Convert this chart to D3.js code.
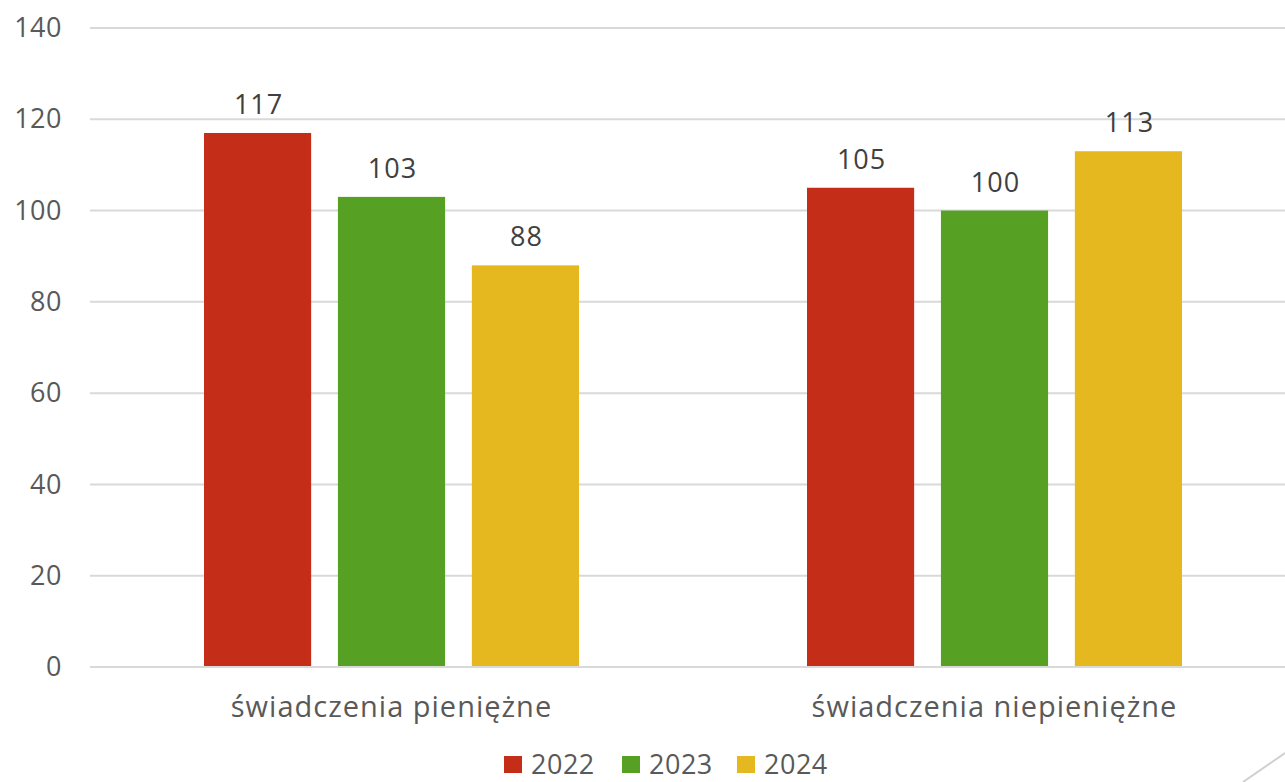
<!DOCTYPE html>
<html>
<head>
<meta charset="utf-8">
<script src="https://cdn.jsdelivr.net/npm/d3@7"></script>
<style>
    body { margin: 0; background: #ffffff; }
    svg { display: block; font-family: "Open Sans", "DejaVu Sans", sans-serif; }
</style>
</head>
<body>
<svg id="chart" width="1285" height="782"></svg>
<script>
// Data
const categories = ["świadczenia pieniężne", "świadczenia niepieniężne"];
const years = ["2022", "2023", "2024"];
const values2022 = [117, 105];
const values2023 = [103, 100];
const values2024 = [88, 113];
const yTicks = [0, 20, 40, 60, 80, 100, 120, 140];

const colors = ["#C42E19", "#56A024", "#E5B820"];
const seriesValues = [values2022, values2023, values2024];

const svg = d3.select("#chart");
const margin = { top: 28, right: -11, bottom: 115, left: 90 };
const width = 1285 - margin.left - margin.right;
const height = 782 - margin.top - margin.bottom;

const chart = svg.append("g")
    .attr("transform", `translate(${margin.left},${margin.top})`);

// Scales
const x0 = d3.scaleBand().domain(categories).range([0, width]).paddingInner(0).paddingOuter(0);
const x1 = d3.scaleBand().domain(years).range([0, 375]).paddingInner(0.2).paddingOuter(0);
const y = d3.scaleLinear().domain([0, 140]).range([height, 0]);

// Gridlines
chart.append("g")
    .selectAll("line")
    .data(yTicks)
    .join("line")
    .attr("x1", 0)
    .attr("x2", width)
    .attr("y1", d => y(d))
    .attr("y2", d => y(d))
    .attr("stroke", "#D9D9D9")
    .attr("stroke-width", 2);

// Y axis labels
const yAxis = chart.append("g")
    .call(d3.axisLeft(y).tickValues(yTicks).tickSize(0).tickPadding(28));
yAxis.select(".domain").remove();
yAxis.selectAll("text")
    .attr("fill", "#595959")
    .attr("font-size", 27)
    .style("letter-spacing", "0.5px")
    .style("font-family", "'Open Sans', 'DejaVu Sans', sans-serif");

// Bars
const groups = chart.selectAll(".group")
    .data(categories)
    .join("g")
    .attr("class", "group")
    .attr("transform", d => `translate(${x0(d) + (x0.bandwidth() - 375) / 2},0)`);

groups.selectAll("rect")
    .data((d, i) => years.map((yr, s) => ({ year: yr, value: seriesValues[s][i], color: colors[s] })))
    .join("rect")
    .attr("x", d => x1(d.year))
    .attr("y", d => y(d.value))
    .attr("width", x1.bandwidth())
    .attr("height", d => y(0) - y(d.value) - 1)
    .attr("fill", d => d.color);

groups.selectAll(".value-label")
    .data((d, i) => years.map((yr, s) => ({ year: yr, value: seriesValues[s][i] })))
    .join("text")
    .attr("class", "value-label")
    .attr("x", d => x1(d.year) + x1.bandwidth() / 2 + 1)
    .attr("y", d => y(d.value) - 19)
    .attr("text-anchor", "middle")
    .attr("fill", "#404040")
    .attr("font-size", 27)
    .style("letter-spacing", "1px")
    .text(d => d.value);

// Category labels
chart.selectAll(".cat-label")
    .data(categories)
    .join("text")
    .attr("class", "cat-label")
    .attr("x", d => x0(d) + x0.bandwidth() / 2)
    .attr("y", height + 50)
    .attr("text-anchor", "middle")
    .attr("fill", "#595959")
    .attr("font-size", 29)
    .style("letter-spacing", "1px")
    .text(d => d);

// Legend
const legendX = [504, 622, 737];
const legend = svg.append("g");
const items = legend.selectAll("g")
    .data(years)
    .join("g")
    .attr("transform", (d, i) => `translate(${legendX[i]},756)`);
items.append("rect")
    .attr("width", 18)
    .attr("height", 17)
    .attr("fill", (d, i) => colors[i]);
items.append("text")
    .attr("x", 27)
    .attr("y", 18)
    .attr("fill", "#595959")
    .attr("font-size", 27)
    .style("letter-spacing", "0.5px")
    .text(d => d);

// Slide decoration in the corner
svg.append("line")
    .attr("x1", 1243).attr("y1", 782)
    .attr("x2", 1285).attr("y2", 753)
    .attr("stroke", "#D0D0D0")
    .attr("stroke-width", 2);
</script>
</body>
</html>
